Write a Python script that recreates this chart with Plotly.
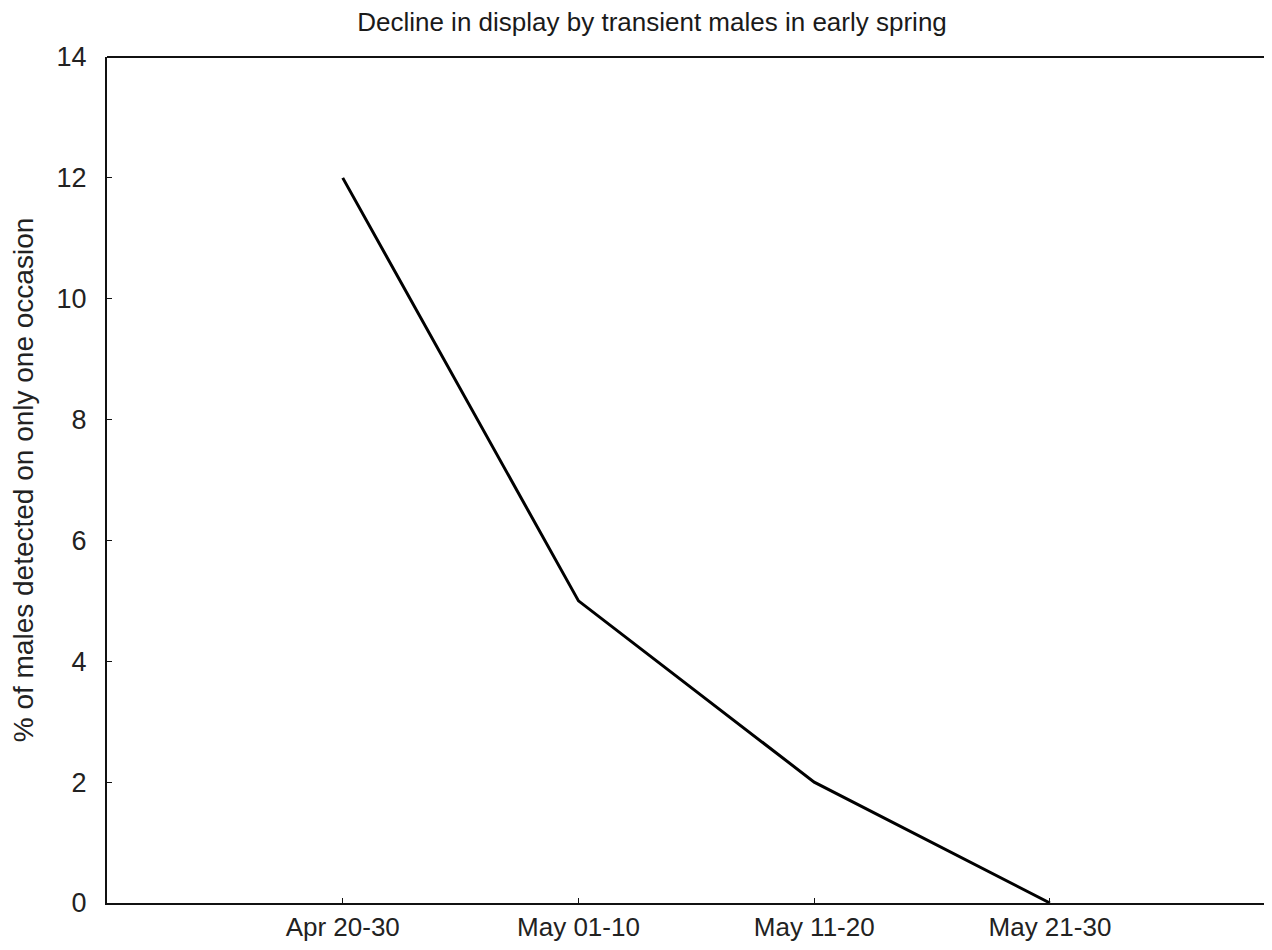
import plotly.graph_objects as go

categories = ["Apr 20-30", "May 01-10", "May 11-20", "May 21-30"]
values = [12, 5, 2, 0]
y_ticks = [0, 2, 4, 6, 8, 10, 12, 14]

fig = go.Figure()
fig.add_trace(go.Scatter(
    x=list(range(len(categories))), y=values, mode="lines",
    line=dict(color="black", width=3), showlegend=False,
))

font = "Liberation Sans, Arial, sans-serif"
W, H = 1256, 934
fig.update_layout(
    width=W, height=H,
    margin=dict(l=99, r=0, t=49, b=39),
    paper_bgcolor="white", plot_bgcolor="white",
    title=dict(text="Decline in display by transient males in early spring",
               x=(652 - 8) / W, xref="container", xanchor="center",
               y=1 - 5 / H, yref="container", yanchor="top",
               font=dict(family=font, size=26, color="#1a1a1a")),
    xaxis=dict(
        range=[-1, 3.908], tickmode="array",
        tickvals=list(range(len(categories))), ticktext=categories,
        ticks="inside", ticklen=5, tickwidth=1, tickcolor="#111",
        showline=True, linecolor="#111", linewidth=2, mirror=False,
        showgrid=False, zeroline=False, automargin=False,
        tickfont=dict(family=font, size=26, color="#222"),
        ticklabelstandoff=0,
    ),
    yaxis=dict(
        range=[0, 14], tickmode="array", tickvals=y_ticks,
        ticks="inside", ticklen=5, tickwidth=1, tickcolor="#111",
        showline=True, linecolor="#111", linewidth=2,
        showgrid=False, zeroline=False, automargin=False,
        tickfont=dict(family=font, size=27, color="#222"),
        ticklabelstandoff=13,
        title=dict(text="% of males detected on only one occasion",
                   font=dict(family=font, size=28, color="#222"), standoff=16),
    ),
)
# top border line
fig.add_shape(type="line", xref="paper", yref="paper", x0=0, x1=1, y0=1, y1=1,
              line=dict(color="#111", width=2))

fig.write_html("out.html")
